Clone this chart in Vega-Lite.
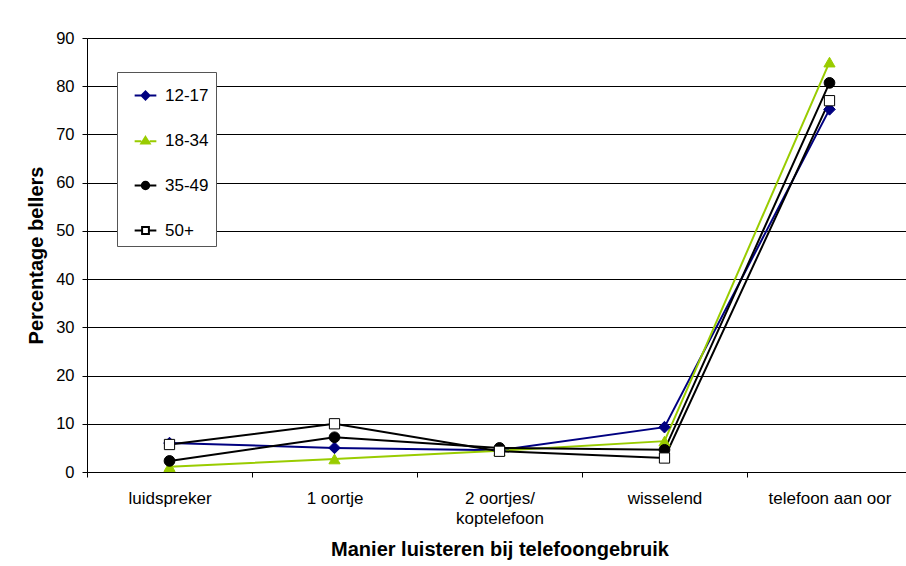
{
  "$schema": "https://vega.github.io/schema/vega-lite/v6.json",
  "width": 825,
  "height": 434,
  "autosize": {"type": "none"},
  "padding": {"left": 87, "top": 38, "right": 0, "bottom": 94},
  "background": "white",
  "config": {
    "view": {"stroke": null},
    "font": "Liberation Sans"
  },
  "data": {
    "values": [
      {"manier": "luidspreker", "groep": "12-17", "pct": 6.0},
      {"manier": "luidspreker", "groep": "18-34", "pct": 1.1},
      {"manier": "luidspreker", "groep": "35-49", "pct": 2.3},
      {"manier": "luidspreker", "groep": "50+", "pct": 5.7},
      {"manier": "1 oortje", "groep": "12-17", "pct": 5.0},
      {"manier": "1 oortje", "groep": "18-34", "pct": 2.7},
      {"manier": "1 oortje", "groep": "35-49", "pct": 7.2},
      {"manier": "1 oortje", "groep": "50+", "pct": 10.0},
      {"manier": "2 oortjes/ koptelefoon", "groep": "12-17", "pct": 4.5},
      {"manier": "2 oortjes/ koptelefoon", "groep": "18-34", "pct": 4.4},
      {"manier": "2 oortjes/ koptelefoon", "groep": "35-49", "pct": 5.0},
      {"manier": "2 oortjes/ koptelefoon", "groep": "50+", "pct": 4.3},
      {"manier": "wisselend", "groep": "12-17", "pct": 9.3},
      {"manier": "wisselend", "groep": "18-34", "pct": 6.4},
      {"manier": "wisselend", "groep": "35-49", "pct": 4.6},
      {"manier": "wisselend", "groep": "50+", "pct": 2.9},
      {"manier": "telefoon aan oor", "groep": "12-17", "pct": 75.2},
      {"manier": "telefoon aan oor", "groep": "18-34", "pct": 85.0},
      {"manier": "telefoon aan oor", "groep": "35-49", "pct": 80.7},
      {"manier": "telefoon aan oor", "groep": "50+", "pct": 77.0}
    ]
  },
  "encoding": {
    "x": {
      "field": "manier",
      "type": "nominal",
      "sort": null,
      "scale": {"paddingInner": 0, "paddingOuter": 0},
      "axis": {
        "title": "Manier luisteren bij telefoongebruik",
        "titleFont": "Liberation Sans",
        "titleFontSize": 20,
        "titleFontWeight": "bold",
        "titleColor": "black",
        "titlePadding": 13,
        "labelFont": "Liberation Sans",
        "labelFontSize": 17,
        "labelColor": "black",
        "labelAngle": 0,
        "labelPadding": 13,
        "labelLineHeight": 20,
        "labelBaseline": "top",
        "labelExpr": "datum.label === '2 oortjes/ koptelefoon' ? ['2 oortjes/', 'koptelefoon'] : datum.label",
        "tickBand": "extent",
        "tickSize": 5,
        "tickColor": "black",
        "domainColor": "black",
        "domainWidth": 1,
        "grid": false
      }
    },
    "y": {
      "field": "pct",
      "type": "quantitative",
      "scale": {"domain": [0, 90], "nice": false},
      "axis": {
        "title": "Percentage bellers",
        "titleFont": "Liberation Sans",
        "titleFontSize": 20,
        "titleFontWeight": "bold",
        "titleColor": "black",
        "titlePadding": 9,
        "values": [0, 10, 20, 30, 40, 50, 60, 70, 80, 90],
        "labelFont": "Liberation Sans",
        "labelFontSize": 16.5,
        "labelColor": "black",
        "labelPadding": 8,
        "tickSize": 5,
        "tickColor": "black",
        "domainColor": "black",
        "grid": true,
        "gridColor": "black",
        "gridWidth": 1
      }
    }
  },
  "layer": [
    {
      "mark": {"type": "line", "strokeWidth": 2},
      "encoding": {
        "detail": {"field": "groep"},
        "stroke": {
          "field": "groep",
          "type": "nominal",
          "scale": {"domain": ["12-17", "18-34", "35-49", "50+"], "range": ["#000080", "#99CC00", "#000000", "#000000"]},
          "legend": {
            "title": null,
            "orient": "none",
            "legendX": 30,
            "legendY": 34,
            "padding": 7,
            "symbolOffset": 5,
            "rowPadding": 20,
            "fillColor": "white",
            "strokeColor": "#555555",
            "labelFont": "Liberation Sans",
            "labelFontSize": 17,
            "labelColor": "black",
            "labelOffset": 3,
            "symbolSize": 961,
            "symbolStrokeWidth": 2
          }
        }
      }
    },
    {
      "transform": [{"filter": "false"}],
      "mark": {"type": "point", "filled": true, "opacity": 1},
      "encoding": {
        "shape": {
          "field": "groep",
          "type": "nominal",
          "scale": {
            "domain": ["12-17", "18-34", "35-49", "50+"],
            "range": [
              "M-0.7,0H-0.26M0.26,0H0.7M0,-0.26L0.26,0L0,0.26L-0.26,0Z",
              "M-0.7,0.05H-0.27M0.27,0.05H0.7M0,-0.23L0.27,0.2L-0.27,0.2Z",
              "M-0.7,0H-0.24M0.24,0H0.7M-0.24,0A0.24,0.24 0 1,0 0.24,0A0.24,0.24 0 1,0 -0.24,0Z",
              "M-0.7,0H-0.22M0.22,0H0.7M-0.22,-0.22H0.22V0.22H-0.22Z"
            ]
          }
        },
        "fill": {
          "field": "groep",
          "type": "nominal",
          "scale": {"domain": ["12-17", "18-34", "35-49", "50+"], "range": ["#000080", "#99CC00", "#000000", "#ffffff"]}
        },
        "stroke": {
          "field": "groep",
          "type": "nominal"
        }
      }
    },
    {
      "transform": [{"filter": "datum.groep === '12-17'"}],
      "mark": {"type": "point", "shape": "diamond", "size": 135, "filled": true, "opacity": 1, "fill": "#000080", "stroke": "#000080", "strokeWidth": 1}
    },
    {
      "transform": [{"filter": "datum.groep === '18-34'"}],
      "mark": {"type": "point", "shape": "triangle-up", "size": 125, "filled": true, "opacity": 1, "fill": "#99CC00", "stroke": "#99CC00", "strokeWidth": 1}
    },
    {
      "transform": [{"filter": "datum.groep === '35-49'"}],
      "mark": {"type": "point", "shape": "circle", "size": 115, "filled": true, "opacity": 1, "fill": "#000000", "stroke": "#000000", "strokeWidth": 1}
    },
    {
      "transform": [{"filter": "datum.groep === '50+'"}],
      "mark": {"type": "point", "shape": "square", "size": 105, "filled": true, "opacity": 1, "fill": "#ffffff", "stroke": "#000000", "strokeWidth": 1}
    }
  ]
}
